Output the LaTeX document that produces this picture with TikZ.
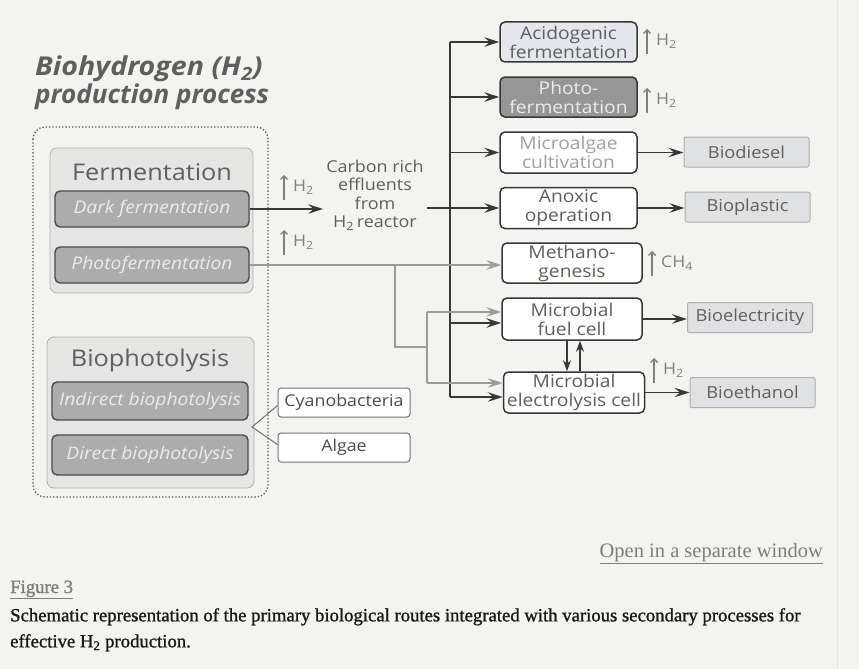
\documentclass[tikz,border=0pt]{standalone}
\usepackage{fontspec}
\setmainfont{Liberation Serif}
\newfontfamily\diag[FakeStretch=1.1]{Open Sans}
\newfontfamily\capfont[FakeBold=1.2]{Liberation Serif}
\usetikzlibrary{arrows.meta,calc}

\definecolor{paper}{RGB}{243,243,240}
\definecolor{ink}{RGB}{55,55,55}
\definecolor{inkgray}{RGB}{155,155,155}
\definecolor{txt}{RGB}{95,95,95}
\definecolor{txtlight}{RGB}{160,160,160}
\definecolor{panelfill}{RGB}{229,229,228}
\definecolor{panelline}{RGB}{175,175,175}
\definecolor{subfill}{RGB}{172,172,172}
\definecolor{outfill}{RGB}{224,225,226}
\definecolor{acidfill}{RGB}{228,232,236}
\definecolor{photofill}{RGB}{150,150,150}
\definecolor{linkcol}{RGB}{125,125,125}

\tikzset{
  heading/.style={font=\diag\bfseries\itshape\fontsize{26}{28}\selectfont, text=txt, inner sep=0pt},
  groupframe/.style={draw=ink!85, dotted, line width=1.3pt, rounded corners=12pt},
  panel/.style={draw=panelline, fill=panelfill, line width=0.8pt, rounded corners=7pt},
  paneltitle/.style={font=\diag\fontsize{23}{26}\selectfont, text=txt, inner sep=0pt},
  subproc/.style={draw=ink!90, fill=subfill, line width=1.4pt, rounded corners=5pt,
    font=\diag\itshape\fontsize{17.5}{20}\selectfont, text=white!92!black, inner sep=0pt},
  organism/.style={draw=ink!70, fill=white, line width=1pt, rounded corners=3pt,
    minimum width=132pt, minimum height=29pt, font=\diag\fontsize{16.2}{18}\selectfont, text=ink!90, inner sep=0pt},
  effluent/.style={font=\diag\fontsize{16.3}{18.5}\selectfont, text=txt, align=center, inner sep=3pt},
  proc/.style={draw=ink, fill=white, line width=1.5pt, rounded corners=5pt, align=center,
    minimum height=41pt, font=\diag\fontsize{17.5}{19}\selectfont, text=txt, inner sep=0pt},
  product/.style={draw=panelline, fill=outfill, line width=1pt, rounded corners=2pt,
    minimum width=125pt, minimum height=30pt, font=\diag\fontsize{16.6}{18}\selectfont, text=txt, inner sep=0pt},
  gas/.style={font=\diag\fontsize{16}{18}\selectfont, text=txtlight!80!black, inner sep=0pt, anchor=west},
  gasarrow/.style={draw=txtlight!80!black, line width=1.4pt, -{Straight Barb[length=3.5pt,width=7pt]}},
  tip/.style={-{Stealth[length=15pt,width=9.5pt,inset=5.5pt]}},
  darr/.style={draw=ink, line width=1.6pt, tip},
  dline/.style={draw=ink, line width=1.6pt},
  garr/.style={draw=inkgray, line width=1.6pt, tip},
  gline/.style={draw=inkgray, line width=1.6pt},
  caption/.style={font=\capfont\fontsize{18.7}{26}\selectfont, inner sep=0pt},
}

\begin{document}
\begin{tikzpicture}[x=1pt,y=-1pt]
\useasboundingbox (0,0) rectangle (859,669);
\fill[paper] (0,0) rectangle (859,669);
\draw[black!10, line width=0.8pt] (837,0) -- (837,669);

% heading
\node[heading, anchor=west] (head1) at (35,69) {Biohydrogen (H\textsubscript{2})};
\node[heading, anchor=west] (head2) at (35,97) {\scalebox{0.91}[1]{production process}};

% primary routes
\draw[groupframe] (33,127) rectangle (268,497);

\node[panel, minimum width=203pt, minimum height=145pt] (ferm) at (151.5,220.5) {};
\node[paneltitle] (fermtitle) at (152,172) {Fermentation};
\node[subproc, minimum width=194pt, minimum height=36pt] (dark) at (152,209) {Dark fermentation};
\node[subproc, minimum width=194pt, minimum height=36pt] (photo) at (152,265) {Photofermentation};

\node[panel, minimum width=207pt, minimum height=151pt] (bioph) at (150.5,412.5) {};
\node[paneltitle] (biophtitle) at (150,361) {Biophotolysis};
\node[subproc, minimum width=196pt, minimum height=38pt] (indirect) at (150,401) {Indirect biophotolysis};
\node[subproc, minimum width=196pt, minimum height=40pt] (direct) at (150,455) {Direct biophotolysis};

\node[organism] (cyano) at (344,402.5) {Cyanobacteria};
\node[organism] (algae) at (344,447.5) {Algae};
\coordinate (brace) at (252,427);
\draw[ink!70, line width=1pt] ($(cyano.west)+(0,3)$) -- (brace) -- ($(algae.west)+(0,-3)$);

% effluent stream
\node[effluent] (effl) at (375,195) {Carbon rich\\effluents\\from\\H\textsubscript{2}\,reactor};

% secondary processes
\node[proc, minimum width=137pt, minimum height=40pt, fill=acidfill] (acid) at (568.5,42) {Acidogenic\\fermentation};
\node[proc, minimum width=137pt, minimum height=40pt, fill=photofill, text=white!92!black] (photoF) at (568.5,97) {Photo-\\fermentation};
\node[proc, minimum width=137pt, text=txtlight] (micro) at (568.5,152.5) {Microalgae\\cultivation};
\node[proc, minimum width=137pt] (anoxic) at (568.5,208) {Anoxic\\operation};
\node[proc, minimum width=140pt, minimum height=40pt] (meth) at (572,263) {Methano-\\genesis};
\node[proc, minimum width=140pt, minimum height=42pt] (mfc) at (572,319) {Microbial\\fuel cell};
\node[proc, minimum width=141pt] (mec) at (574,392.5) {Microbial\\electrolysis cell};

% products
\node[product] (diesel) at (746.5,152) {Biodiesel};
\node[product] (plastic) at (747.5,207) {Bioplastic};
\node[product] (elec) at (750,317.5) {Bioelectricity};
\node[product] (ethanol) at (752.5,392.5) {Bioethanol};

% dark-fermentation effluent trunk
\coordinate (trunk) at (450,42);
\coordinate (trunkend) at (450,397);
\draw[darr] (dark.east) -- (effl.west |- dark.east);
\draw[dline] (trunk) -- (trunkend);
\draw[darr] (trunk) -- (acid.west);
\draw[darr] (trunk |- photoF.west) -- (photoF.west);
\draw[darr] (trunk |- micro.west) -- (micro.west);
\draw[darr] (effl.east |- anoxic.west) -- (anoxic.west);
\coordinate (mfcin) at ($(mfc.west)+(0,4)$);
\draw[darr] (trunk |- mfcin) -- (mfcin);
\draw[darr] (trunkend) -- (trunkend -| mec.west);

% photofermentation effluent
\coordinate (split) at (395,265);
\coordinate (join) at (427,347);
\coordinate (forktop) at (427,312);
\coordinate (forkbot) at (427,383);
\draw[garr] (photo.east) -- (photo.east -| meth.west);
\draw[gline] (split) |- (join);
\draw[gline] (forktop) -- (forkbot);
\draw[garr] (forktop) -- (forktop -| mfc.west);
\draw[garr] (forkbot) -- (forkbot -| mec.west);

% products
\draw[darr] (micro.east) -- (micro.east -| diesel.west);
\draw[darr] (anoxic.east) -- (anoxic.east -| plastic.west);
\draw[darr] (mfc.east) -- (mfc.east -| elec.west);
\draw[darr] (mec.east) -- (mec.east -| ethanol.west);

% MFC <-> MEC exchange
\coordinate (down) at ($(mfc.south)+(-5,0)$);
\coordinate (up) at ($(mfc.south)+(8,0)$);
\draw[darr, -{Stealth[length=11pt,width=8pt,inset=3.5pt]}] (down) -- (down |- mec.north);
\draw[darr, -{Stealth[length=11pt,width=8pt,inset=3.5pt]}] (up |- mec.north) -- (up);

% gas outputs
\node[gas] (gDark) at (293,187) {H\textsubscript{2}};
\node[gas] (gPhoto) at (293,242) {H\textsubscript{2}};
\node[gas] (gAcid) at (656,41) {H\textsubscript{2}};
\node[gas] (gPhotoF) at (656,100) {H\textsubscript{2}};
\node[gas] (gMeth) at (661,263) {CH\textsubscript{4}};
\node[gas] (gMec) at (663,370) {H\textsubscript{2}};
\foreach \g in {gDark,gPhoto,gAcid,gPhotoF,gMeth,gMec}
  \draw[gasarrow] ([xshift=-9pt,yshift=-13pt]\g.west) -- ([xshift=-9pt,yshift=12pt]\g.west);

% caption block
\node[caption, anchor=base east, text=linkcol, font=\fontsize{20.5}{24}\selectfont] (openwin) at (823,557) {\underline{Open in a separate window}};
\node[caption, anchor=base west, text=linkcol] (fig) at (10,593) {\underline{Figure 3}};
\node[caption, anchor=north west, align=left, text=black!90] (captext) at (10,608)
  {Schematic representation of the primary biological routes integrated with various secondary processes for\\effective H\textsubscript{2} production.};
\end{tikzpicture}
\end{document}
